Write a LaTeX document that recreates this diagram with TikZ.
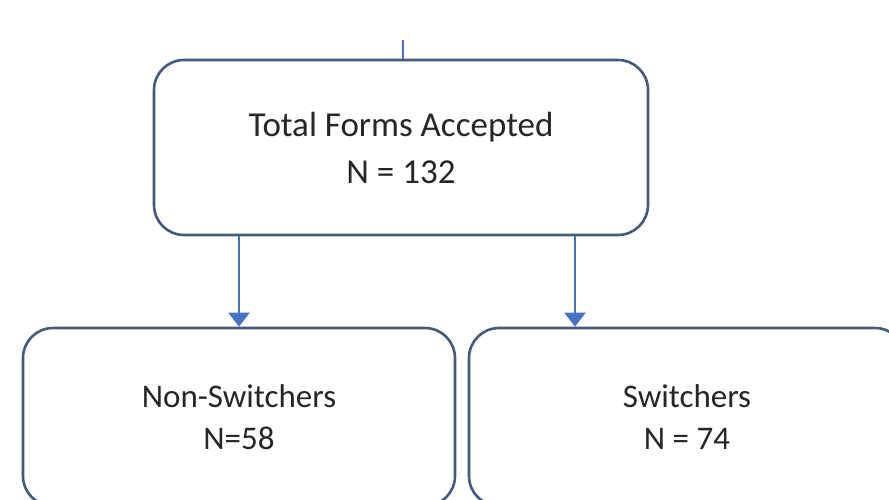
\documentclass[tikz,border=0pt]{standalone}
\usepackage{fontspec}
\setmainfont{Carlito}
\usetikzlibrary{arrows.meta}
\definecolor{boxline}{HTML}{44597F}
\definecolor{arrowblue}{HTML}{4472C4}
\begin{document}
\begin{tikzpicture}[x=1pt,y=-1pt,
  box/.style={draw=boxline, line width=2.6pt, rounded corners=30pt, fill=white,
    align=center, inner sep=0pt, text=black!85},
  conn/.style={draw=arrowblue, line width=1.8pt},
  arr/.style={conn, -{Triangle[width=21pt,length=14pt]}}]
\useasboundingbox (0,0) rectangle (889,500);
\clip (0,0) rectangle (889,500);
\node[box, minimum width=494pt, minimum height=175pt, font=\fontsize{35}{47}\selectfont] (total) at (401,147.5) {Total Forms Accepted\\N = 132};
\node[box, minimum width=432pt, minimum height=178pt, font=\fontsize{33}{42}\selectfont] (non) at (239,417) {Non-Switchers\\N=58};
\node[box, minimum width=436pt, minimum height=178pt, font=\fontsize{33}{42}\selectfont] (sw) at (687,417) {Switchers\\N = 74};
\coordinate (top) at (403,40);
\draw[conn] (top) -- (total.north -| top);
\draw[arr] (total.south -| non.north) -- (non.north);
\draw[arr] (total.south -| 575,0) -- (sw.north -| 575,0);
\end{tikzpicture}
\end{document}
